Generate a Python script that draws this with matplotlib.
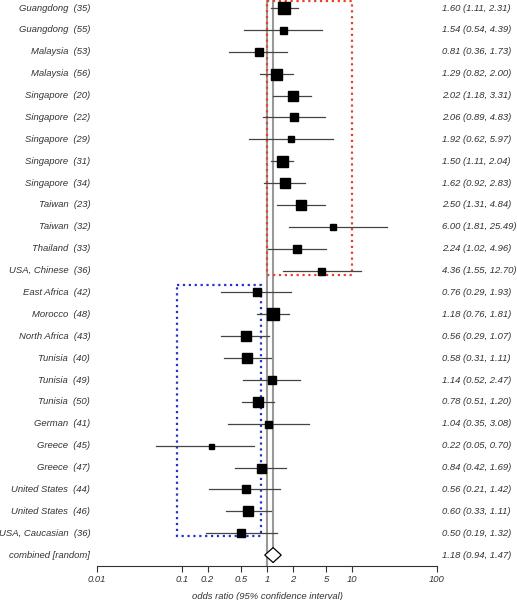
import numpy as np
import matplotlib.pyplot as plt
from matplotlib.patches import Rectangle, Polygon

plt.rcParams['font.family'] = ['Liberation Sans', 'DejaVu Sans']

# Данные исследований
studies = ['Guangdong', 'Guangdong', 'Malaysia', 'Malaysia', 'Singapore', 'Singapore',
           'Singapore', 'Singapore', 'Singapore', 'Taiwan', 'Taiwan', 'Thailand',
           'USA, Chinese', 'East Africa', 'Morocco', 'North Africa', 'Tunisia', 'Tunisia',
           'Tunisia', 'German', 'Greece', 'Greece', 'United States', 'United States',
           'USA, Caucasian']
refs = [35, 55, 53, 56, 20, 22, 29, 31, 34, 23, 32, 33, 36,
        42, 48, 43, 40, 49, 50, 41, 45, 47, 44, 46, 36]
odds = [1.60, 1.54, 0.81, 1.29, 2.02, 2.06, 1.92, 1.50, 1.62, 2.50, 6.00, 2.24, 4.36,
        0.76, 1.18, 0.56, 0.58, 1.14, 0.78, 1.04, 0.22, 0.84, 0.56, 0.60, 0.50]
lower = [1.11, 0.54, 0.36, 0.82, 1.18, 0.89, 0.62, 1.11, 0.92, 1.31, 1.81, 1.02, 1.55,
         0.29, 0.76, 0.29, 0.31, 0.52, 0.51, 0.35, 0.05, 0.42, 0.21, 0.33, 0.19]
upper = [2.31, 4.39, 1.73, 2.00, 3.31, 4.83, 5.97, 2.04, 2.83, 4.84, 25.49, 4.96, 12.70,
         1.93, 1.81, 1.07, 1.11, 2.47, 1.20, 3.08, 0.70, 1.69, 1.42, 1.11, 1.32]
# размер квадрата (вес исследования), в пикселях
box_px = [12, 7, 8, 11, 10, 8, 6, 11, 10, 10, 6, 7.5, 7,
          8, 12, 10, 9.5, 8, 10, 7, 5, 9, 8, 10, 8]

comb_or, comb_lo, comb_hi = 1.18, 0.94, 1.47

ticks = [0.01, 0.1, 0.2, 0.5, 1, 2, 5, 10, 100]
tick_labels = ['0.01', '0.1', '0.2', '0.5', '1', '2', '5', '10', '100']

dpi = 100
fig = plt.figure(figsize=(5.17, 6.0), dpi=dpi)
ax = fig.add_axes([97 / 517, 34 / 600, 340 / 517, 566 / 600])
ax.set_xscale('log')
ax.set_xlim(0.01, 100)
n = len(studies)
ax.set_ylim(n + 0.5, -0.366)

txt_col = '#333333'
fs = 6.8

# Вертикальные линии: OR = 1 и объединённая оценка
ax.plot([1, 1], [-0.4, n + 0.5], color='#999999', lw=1.5, zorder=1)
ax.plot([comb_or, comb_or], [-0.4, n + 0.3], color='#999999', lw=1.5, zorder=1)

# Доверительные интервалы и квадраты
for i in range(n):
    ax.plot([lower[i], upper[i]], [i, i], color='#444444', lw=0.9, zorder=3)
    ax.plot(odds[i], i, 's', color='black', ms=box_px[i] * 72 / dpi, zorder=4)
    ax.text(-0.02, i, f'{studies[i]}  ({refs[i]})', transform=ax.get_yaxis_transform(),
            ha='right', va='center', style='italic', fontsize=fs, color=txt_col)
    ax.text(1.015, i, f'{odds[i]:.2f} ({lower[i]:.2f}, {upper[i]:.2f})',
            transform=ax.get_yaxis_transform(), ha='left', va='center',
            style='italic', fontsize=fs, color=txt_col)

# Объединённая оценка (ромб)
h = 0.34
diamond = Polygon([[comb_lo, n], [comb_or, n - h], [comb_hi, n], [comb_or, n + h]],
                  closed=True, facecolor='white', edgecolor='black', lw=0.9, zorder=4)
ax.add_patch(diamond)
ax.text(-0.02, n, 'combined [random]', transform=ax.get_yaxis_transform(),
        ha='right', va='center', style='italic', fontsize=fs, color=txt_col)
ax.text(1.015, n, f'{comb_or:.2f} ({comb_lo:.2f}, {comb_hi:.2f})',
        transform=ax.get_yaxis_transform(), ha='left', va='center',
        style='italic', fontsize=fs, color=txt_col)

# Пунктирные рамки групп
ax.add_patch(Rectangle((1, -0.32), 9, 12.52, fill=False, edgecolor='#e8412a',
                       ls=':', lw=1.6, zorder=2))
ax.add_patch(Rectangle((0.087, 12.66), 0.85 - 0.087, 24.13 - 12.66, fill=False,
                       edgecolor='#2233cc', ls=':', lw=1.6, zorder=2))

# Оси
for s in ['left', 'right', 'top']:
    ax.spines[s].set_visible(False)
ax.spines['bottom'].set_color('#333333')
ax.spines['bottom'].set_linewidth(0.8)
ax.set_yticks([])
ax.set_xticks(ticks)
ax.set_xticklabels(tick_labels, style='italic', fontsize=fs, color=txt_col)
ax.xaxis.set_minor_locator(plt.NullLocator())
ax.tick_params(axis='x', direction='out', length=4.5, width=0.8, color='#333333', pad=2)
ax.set_xlabel('odds ratio (95% confidence interval)', style='italic', fontsize=fs,
              color=txt_col, labelpad=6)

fig.savefig('out.png', dpi=dpi)
